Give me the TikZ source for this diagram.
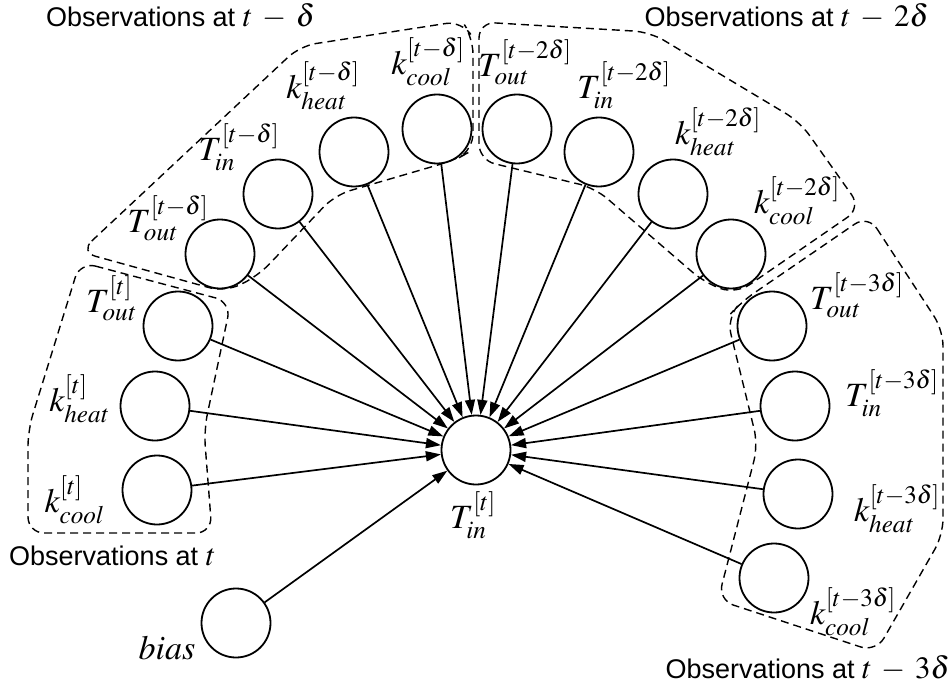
\documentclass[tikz,border=0pt]{standalone}
\usepackage{mathptmx}
\usepackage[no-math]{fontspec}
\setsansfont{Liberation Sans}
\usetikzlibrary{arrows.meta}
\newcommand{\bigmath}[1]{{\fontsize{31}{34}\selectfont$#1$}}
\newcommand{\wminus}{\mskip3mu-\mskip3mu}
\begin{document}
\begin{tikzpicture}[x=1pt,y=-1pt,
 neuron/.style={circle,draw,line width=1.8pt,minimum size=69pt,inner sep=0pt},
 lbl/.style={font=\fontsize{34}{38}\selectfont,inner sep=0pt},
 grp/.style={font=\sffamily\fontsize{27}{30}\selectfont,inner sep=0pt},
 conn/.style={line width=1.7pt,-{Triangle[length=15pt,width=10pt]}},
 grpbox/.style={line width=1.4pt,dash pattern=on 8pt off 5pt,rounded corners=16pt}]
\useasboundingbox (0,0) rectangle (951,690);

% dashed group outlines
\draw[grpbox] (80,252) -- (300,46) -- (462,21) -- (473,38) -- (473,150) -- (455,160) -- (335,195) -- (258,276) -- (225,292) -- cycle;
\draw[grpbox] (479,22) -- (650,32) -- (800,122) -- (861,208) -- (736,294) -- (705,283) -- (595,188) -- (479,160) -- cycle;
\draw[grpbox] (868,215) -- (943,330) -- (943,535) -- (876,652) -- (718,600) -- (758,445) -- (727,318) -- (741,302) -- cycle;
\draw[grpbox] (80,262) -- (231,302) -- (204,430) -- (212,533) -- (28,533) -- (28,430) -- cycle;

% nodes
\node[neuron] (ct) at (476,450) {};
\node[neuron] (kc0) at (157,490) {};
\node[neuron] (kh0) at (155,406) {};
\node[neuron] (To0) at (178,326) {};
\node[neuron] (To1) at (220,254) {};
\node[neuron] (Ti1) at (278,194) {};
\node[neuron] (kh1) at (354,152) {};
\node[neuron] (kc1) at (437,129) {};
\node[neuron] (To2) at (517,129) {};
\node[neuron] (Ti2) at (599,152) {};
\node[neuron] (kh2) at (673,194) {};
\node[neuron] (kc2) at (731,254) {};
\node[neuron] (To3) at (772,326) {};
\node[neuron] (Ti3) at (795,406) {};
\node[neuron] (kh3) at (798,494) {};
\node[neuron] (kc3) at (774,578) {};
\node[neuron] (bias) at (236,623) {};

% connectors
\foreach \n in {kc0,kh0,To0,To1,Ti1,kh1,kc1,To2,Ti2,kh2,kc2,To3,Ti3,kh3,kc3,bias}
  \draw[conn] (\n) -- (ct);

% labels
\node[lbl] (lct) at (473,515) {$T^{[t]}_{\mathit{in}}$};
\node[lbl] (lkc0) at (74,500) {$k^{[t]}_{\mathit{cool}}$};
\node[lbl] (lkh0) at (79,399) {$k^{[t]}_{\mathit{heat}}$};
\node[lbl] (lTo0) at (111,298) {$T^{[t]}_{\mathit{out}}$};
\node[lbl] (lTo1) at (168,218) {$T^{[t-\delta]}_{\mathit{out}}$};
\node[lbl] (lTi1) at (239,147) {$T^{[t-\delta]}_{\mathit{in}}$};
\node[lbl] (lkh1) at (323,86) {$k^{[t-\delta]}_{\mathit{heat}}$};
\node[lbl] (lkc1) at (428,62) {$k^{[t-\delta]}_{\mathit{cool}}$};
\node[lbl] (lTo2) at (525,62) {$T^{[t-2\delta]}_{\mathit{out}}$};
\node[lbl] (lTi2) at (624,85) {$T^{[t-2\delta]}_{\mathit{in}}$};
\node[lbl] (lkh2) at (718,132) {$k^{[t-2\delta]}_{\mathit{heat}}$};
\node[lbl] (lkc2) at (797,201) {$k^{[t-2\delta]}_{\mathit{cool}}$};
\node[lbl] (lTo3) at (857,295) {$T^{[t-3\delta]}_{\mathit{out}}$};
\node[lbl] (lTi3) at (892,393) {$T^{[t-3\delta]}_{\mathit{in}}$};
\node[lbl] (lkh3) at (897,509) {$k^{[t-3\delta]}_{\mathit{heat}}$};
\node[lbl] (lkc3) at (853,612) {$k^{[t-3\delta]}_{\mathit{cool}}$};
\node[lbl,anchor=base] (lbias) at (167,659) {$bias$};

% group titles
\node[grp,anchor=base west] (g1) at (46,27) {Observations at \bigmath{t\wminus\delta}};
\node[grp,anchor=base east] (g2) at (929,27) {Observations at \bigmath{t\wminus 2\delta}};
\node[grp,anchor=base west] (g0) at (9,565) {Observations at \bigmath{t}};
\node[grp,anchor=base east] (g3) at (950,678) {Observations at \bigmath{t\wminus 3\delta}};
\end{tikzpicture}
\end{document}
